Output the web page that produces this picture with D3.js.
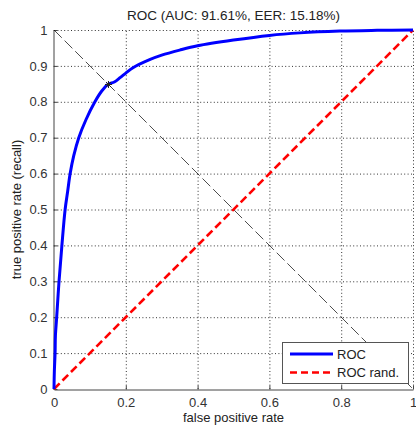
<!DOCTYPE html>
<html><head><meta charset="utf-8">
<script src="https://cdn.jsdelivr.net/npm/d3@7/dist/d3.min.js"></script>
<style>
html,body{margin:0;padding:0;background:#fff;}
text{font-family:"Liberation Sans",Arial,Helvetica,sans-serif;}
</style></head>
<body>
<script>
const fpr = [0, 0.001, 0.003, 0.004, 0.0075, 0.014, 0.022, 0.031, 0.038, 0.045, 0.055, 0.069, 0.089, 0.114, 0.133, 0.151, 0.168, 0.185, 0.200, 0.220, 0.268, 0.300, 0.350, 0.400, 0.500, 0.600, 0.685, 0.796, 0.900, 1.000];
const tpr = [0, 0.05, 0.10, 0.15, 0.20, 0.30, 0.40, 0.50, 0.55, 0.60, 0.65, 0.70, 0.75, 0.80, 0.83, 0.849, 0.855, 0.868, 0.880, 0.895, 0.918, 0.930, 0.944, 0.956, 0.972, 0.985, 0.992, 0.997, 0.999, 1.000];
const randX = [0, 1];
const randY = [0, 1];
const eerX = [0, 1];
const eerY = [1, 0];
const eerPoint = [0.1518, 0.8482];
const xTicks = [0, 0.2, 0.4, 0.6, 0.8, 1];
const yTicks = [0, 0.1, 0.2, 0.3, 0.4, 0.5, 0.6, 0.7, 0.8, 0.9, 1];
const titleText = "ROC (AUC: 91.61%, EER: 15.18%)";
const xLabel = "false positive rate";
const yLabel = "true positive rate (recall)";
const legendLabels = ["ROC", "ROC rand."];

const W = 416, H = 432;
const m = {l:54, r:3, t:30, b:43};
const svg = d3.select("body").append("svg").attr("width", W).attr("height", H);
const x = d3.scaleLinear().domain([0,1]).range([m.l, W - m.r]);
const y = d3.scaleLinear().domain([0,1]).range([H - m.b, m.t]);
const tc = "#333";

// grid
const g = svg.append("g");
g.selectAll(".gx").data(xTicks.slice(1)).join("line")
  .attr("x1", d=>x(d)+0.5).attr("x2", d=>x(d)+0.5).attr("y1", y(0)).attr("y2", y(1))
  .attr("stroke", "#333").attr("stroke-width", 1).attr("stroke-dasharray", "1,2.4");
g.selectAll(".gy").data(yTicks.slice(1)).join("line")
  .attr("y1", d=>y(d)+0.5).attr("y2", d=>y(d)+0.5).attr("x1", x(0)).attr("x2", x(1))
  .attr("stroke", "#333").attr("stroke-width", 1).attr("stroke-dasharray", "1,2.4");

// axes
const xAxis = d3.axisBottom(x).tickValues(xTicks).tickSizeInner(-4).tickSizeOuter(0).tickPadding(8).tickFormat(d3.format("~g"));
const yAxis = d3.axisLeft(y).tickValues(yTicks).tickSizeInner(-4).tickSizeOuter(0).tickPadding(6).tickFormat(d3.format("~g"));
const ax = svg.append("g").attr("transform", `translate(0,${y(0)+0.5})`).call(xAxis);
const ay = svg.append("g").attr("transform", `translate(${x(0)-0.5},0)`).call(yAxis);
[ax, ay].forEach(a => {
  a.select(".domain").attr("stroke", "#444");
  a.selectAll(".tick line").attr("stroke", "#444");
  a.selectAll(".tick text").attr("fill", tc).attr("font-size", 13).attr("font-family", '"Liberation Sans",Arial,sans-serif');
});

const line = d3.line().x(d=>x(d[0])).y(d=>y(d[1]));

// EER diagonal
svg.append("path").datum(d3.zip(eerX, eerY)).attr("d", line)
  .attr("fill","none").attr("stroke","#000").attr("stroke-width",0.7).attr("stroke-dasharray","11,4");

// random
svg.append("path").datum(d3.zip(randX, randY)).attr("d", line)
  .attr("fill","none").attr("stroke","#ff0000").attr("stroke-width",2.6).attr("stroke-dasharray","8,4");

// ROC
svg.append("path").datum(d3.zip(fpr, tpr)).attr("d", d3.line().x(d=>x(d[0])).y(d=>y(d[1])).curve(d3.curveCatmullRom.alpha(0.5)))
  .attr("fill","none").attr("stroke","#0000ff").attr("stroke-width",3).attr("stroke-linejoin","round");

// EER star
const ex = x(eerPoint[0]), ey = y(eerPoint[1]);
const star = svg.append("g").attr("transform", `translate(${ex},${ey})`).attr("stroke","#222").attr("stroke-width",1);
[0, 45, 90, 135].forEach(a => {
  const r = 3.5, rad = a*Math.PI/180;
  star.append("line").attr("x1", -r*Math.cos(rad)).attr("y1", -r*Math.sin(rad)).attr("x2", r*Math.cos(rad)).attr("y2", r*Math.sin(rad));
});

// title & labels
svg.append("text").attr("x", (x(0)+x(1))/2).attr("y", 20).attr("text-anchor","middle").attr("font-size",13.5).attr("fill","#222").text(titleText);
svg.append("text").attr("x", (x(0)+x(1))/2).attr("y", 422).attr("text-anchor","middle").attr("font-size",13).attr("fill","#222").text(xLabel);
svg.append("text").attr("transform", `translate(21,${(y(0)+y(1))/2}) rotate(-90)`).attr("text-anchor","middle").attr("font-size",13).attr("fill","#222").text(yLabel);

// legend
const lg = svg.append("g");
lg.append("rect").attr("x",282.5).attr("y",342.5).attr("width",126).attr("height",41)
  .attr("fill","#fff").attr("stroke","#555").attr("stroke-width",1);
const styles = [{c:"#0000ff", d:null}, {c:"#ff0000", d:"7,4"}];
legendLabels.forEach((t,i) => {
  const yy = 354 + i*18.5;
  lg.append("line").attr("x1",290).attr("x2",333).attr("y1",yy).attr("y2",yy)
    .attr("stroke",styles[i].c).attr("stroke-width",i===0?3:2.6).attr("stroke-dasharray",styles[i].d);
  lg.append("text").attr("x",337).attr("y",yy+4.5).attr("font-size",13).attr("fill","#222").text(t);
});
</script>
</body></html>
